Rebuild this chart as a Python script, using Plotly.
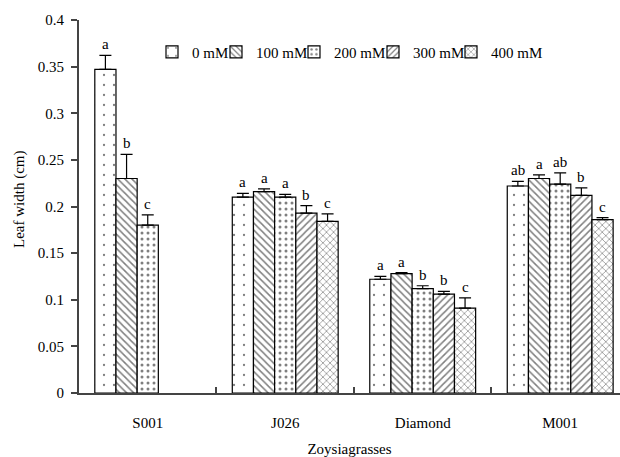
import plotly.graph_objects as go

categories = ["S001", "J026", "Diamond", "M001"]
series_names = ["0 mM", "100 mM", "200 mM", "300 mM", "400 mM"]
values = {
    "0 mM":   [0.347, 0.210, 0.122, 0.222],
    "100 mM": [0.230, 0.216, 0.128, 0.230],
    "200 mM": [0.180, 0.210, 0.112, 0.224],
    "300 mM": [None, 0.193, 0.106, 0.212],
    "400 mM": [None, 0.184, 0.091, 0.186],
}
errors = {
    "0 mM":   [0.015, 0.004, 0.003, 0.005],
    "100 mM": [0.026, 0.003, 0.001, 0.004],
    "200 mM": [0.011, 0.003, 0.003, 0.012],
    "300 mM": [None, 0.008, 0.003, 0.008],
    "400 mM": [None, 0.008, 0.011, 0.002],
}
letters = {
    "0 mM":   ["a", "a", "a", "ab"],
    "100 mM": ["b", "a", "a", "a"],
    "200 mM": ["c", "a", "b", "ab"],
    "300 mM": [None, "b", "b", "b"],
    "400 mM": [None, "c", "c", "c"],
}
patterns = {
    "0 mM":   dict(shape=".", size=10, solidity=0.04),
    "100 mM": dict(shape="\\", size=5, solidity=0.3),
    "200 mM": dict(shape=".", size=6, solidity=0.2),
    "300 mM": dict(shape="/", size=5, solidity=0.3),
    "400 mM": dict(shape="x", size=5, solidity=0.25),
}
# left edge (px) of each legend entry's text in the reference
legend_text_px = [190, 254, 332, 411, 489]

FONT = '"Liberation Serif", "Times New Roman", serif'
bar_w = 0.154
n = len(series_names)
xpos = list(range(len(categories)))
PLOT_L, PLOT_W = 79, 541

fig = go.Figure()
annotations = []
legends = {}
for j, name in enumerate(series_names):
    off = -bar_w * n / 2 + j * bar_w
    lg = "legend" if j == 0 else f"legend{j + 1}"
    fig.add_trace(go.Bar(
        name=name,
        x=xpos,
        y=values[name],
        width=bar_w,
        offset=off,
        legend=lg,
        marker=dict(color="white", line=dict(color="black", width=1.2),
                    pattern=dict(fgcolor="black", bgcolor="white", **patterns[name])),
        error_y=dict(type="data", array=errors[name], arrayminus=[0] * 4,
                     symmetric=False, color="black", thickness=1.2, width=6),
    ))
    legends[lg] = dict(
        orientation="h", x=(legend_text_px[j] - 38 - PLOT_L) / PLOT_W, y=0.914,
        xanchor="left", yanchor="middle",
        font=dict(family=FONT, size=15, color="black"),
        bgcolor="rgba(0,0,0,0)", itemwidth=30,
    )
    for i in xpos:
        v = values[name][i]
        if v is None:
            continue
        e = errors[name][i] or 0
        annotations.append(dict(
            x=i + off + bar_w / 2, y=v + e, xref="x", yref="y",
            text=letters[name][i], showarrow=False, yanchor="bottom", yshift=1,
            font=dict(family=FONT, size=15, color="black"),
        ))

annotations.append(dict(
    x=-(79 - 19) / 541, y=(393 - 200) / 373, xref="paper", yref="paper",
    text="Leaf width (cm)", showarrow=False, textangle=-90,
    xanchor="center", yanchor="middle",
    font=dict(family=FONT, size=15, color="black"),
))

fig.update_layout(
    width=620, height=457,
    margin=dict(l=79, r=0, t=20, b=64),
    paper_bgcolor="white", plot_bgcolor="white",
    barmode="overlay",
    showlegend=True,
    font=dict(family=FONT, size=15, color="black"),
    xaxis=dict(
        range=[-0.5, 3.435],
        tickvals=xpos, ticktext=categories, ticks="", ticklabelstandoff=15,
        minor=dict(tickvals=[0.5, 1.5, 2.5], ticks="inside", ticklen=6,
                   tickcolor="#444", tickwidth=1.5, showgrid=False),
        showline=True, linecolor="#444", linewidth=2,
        showgrid=False, zeroline=False,
        tickfont=dict(family=FONT, size=15, color="black"),
        title=dict(text="Zoysiagrasses", font=dict(family=FONT, size=15, color="black"), standoff=14),
    ),
    yaxis=dict(
        range=[0, 0.4], dtick=0.05, tick0=0,
        showline=True, linecolor="#444", linewidth=2,
        ticks="outside", ticklen=6, tickcolor="#444", tickwidth=1.5,
        ticklabelstandoff=4,
        showgrid=False, zeroline=False,
        tickfont=dict(family=FONT, size=15, color="black"),
    ),
    annotations=annotations,
    **legends,
)

fig.write_html("out.html")
